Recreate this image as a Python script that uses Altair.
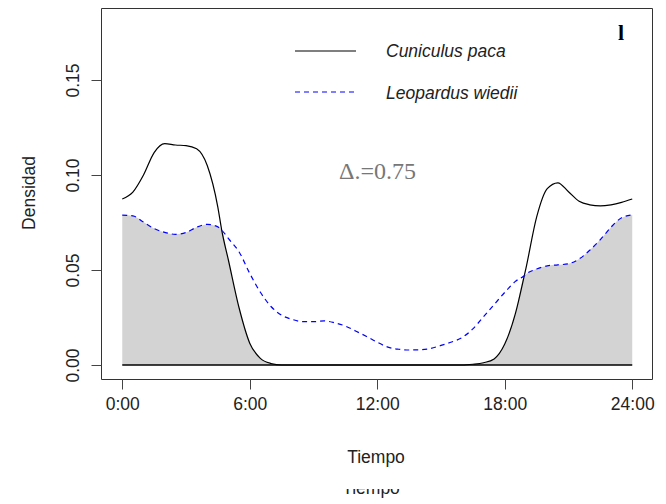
import altair as alt
import numpy as np
import pandas as pd

# Kernel density of activity (hour of day) for each species
hours = [0, 0.5, 1, 1.5, 2, 2.5, 3, 3.5, 4, 4.5, 4.68, 5, 5.5, 6, 6.5, 7, 7.5,
         8, 8.5, 9, 9.5, 10, 10.5, 11, 11.5, 12, 12.5, 13, 13.5, 14, 14.5, 15,
         15.5, 16, 16.5, 17, 17.5, 18, 18.5, 18.92, 19, 19.5, 20, 20.5, 21,
         21.5, 22, 22.5, 23, 23.5, 24]

paca = [0.0874, 0.0910, 0.1000, 0.1118, 0.1165, 0.1158, 0.1155, 0.1138, 0.1050,
        0.0830, 0.0710, 0.0550, 0.0300, 0.0115, 0.0035, 0.0008, 0.0,
        0.0, 0.0, 0.0, 0.0, 0.0, 0.0, 0.0, 0.0, 0.0, 0.0, 0.0, 0.0, 0.0, 0.0, 0.0,
        0.0, 0.0, 0.0004, 0.0012, 0.0032, 0.0110, 0.0270, 0.0470, 0.0510, 0.0778,
        0.0928, 0.0959, 0.0912, 0.0862, 0.0843, 0.0837, 0.0843, 0.0856, 0.0874]

wiedii = [0.0789, 0.0785, 0.0752, 0.0718, 0.0698, 0.0688, 0.0697, 0.0725, 0.0740,
          0.0727, 0.0710, 0.0665, 0.0595, 0.0482, 0.0383, 0.0308, 0.0262,
          0.0240, 0.0228, 0.0228, 0.0232, 0.0222, 0.0205, 0.0178, 0.0150, 0.0120,
          0.0094, 0.0083, 0.0079, 0.0080, 0.0087, 0.0103, 0.0121, 0.0145, 0.0190,
          0.0254, 0.0318, 0.0382, 0.0440, 0.0470, 0.0478, 0.0505, 0.0522, 0.0527,
          0.0533, 0.0558, 0.0604, 0.0660, 0.0725, 0.0775, 0.0790]

x_ticks = [0, 6, 12, 18, 24]
y_ticks = [0.0, 0.05, 0.10, 0.15]
species = ["Cuniculus paca", "Leopardus wiedii"]
overlap_label = "\u0394.=0.75"
panel_label = "l"

df = pd.DataFrame({"hora": hours, "paca": paca, "wiedii": wiedii})
df["solape"] = np.minimum(df["paca"], df["wiedii"])

one = pd.DataFrame({"k": [0]})  # single row for annotation marks

W, H = 551, 371
SANS = "Liberation Sans"
SERIF = "Liberation Serif"

x_scale = alt.Scale(domain=[-1.0, 24.93], nice=False, zero=False)
y_scale = alt.Scale(domain=[-0.00737, 0.1879], nice=False, zero=False)

x_axis = alt.Axis(values=x_ticks, labelExpr="datum.value + ':00'", title=None,
                  grid=False, domain=False, ticks=True, tickSize=10,
                  tickColor="#444", labelFont=SANS, labelFontSize=17.5,
                  labelColor="#222", labelPadding=20, labelBaseline="alphabetic",
                  labelFlush=False, labelOverlap=False)
y_axis = alt.Axis(values=y_ticks, format=".2f", title=None, grid=False,
                  domain=False, ticks=True, tickSize=10, tickColor="#444",
                  labelFont=SANS, labelFontSize=17.5, labelColor="#222",
                  labelAngle=270, labelAlign="center", labelBaseline="alphabetic",
                  labelPadding=13, labelFlush=False, labelOverlap=False)

base = alt.Chart(df)

area = base.mark_area(color="#D3D3D3", interpolate="monotone").encode(
    x=alt.X("hora:Q", scale=x_scale, axis=x_axis),
    y=alt.Y("solape:Q", scale=y_scale, axis=y_axis),
)

zero_line = alt.Chart(one).mark_rule(color="black", strokeWidth=1.4).encode(
    x=alt.datum(0, scale=x_scale), x2=alt.datum(24), y=alt.datum(0, scale=y_scale)
)

line_paca = base.mark_line(color="black", strokeWidth=1.2, interpolate="monotone").encode(
    x="hora:Q", y="paca:Q"
)
line_wiedii = base.mark_line(color="blue", strokeWidth=1.2, strokeDash=[5, 4],
                             interpolate="monotone").encode(
    x="hora:Q", y="wiedii:Q"
)

# legend (pixel positions inside the plot area)
leg_paca = alt.Chart(one).mark_rule(color="black", strokeWidth=1.2).encode(
    x=alt.value(194), x2=alt.value(255), y=alt.value(43)
)
leg_wiedii = alt.Chart(one).mark_rule(color="blue", strokeWidth=1.2, strokeDash=[5, 4]).encode(
    x=alt.value(194), x2=alt.value(255), y=alt.value(84)
)
leg_text = alt.Chart(pd.DataFrame({"t": species, "y": [49, 91]})).mark_text(
    font=SANS, fontSize=17.5, fontStyle="italic", align="left",
    baseline="alphabetic", color="#222"
).encode(x=alt.value(285), y=alt.Y("y:Q", scale=None), text="t:N")

delta_text = alt.Chart(one).mark_text(
    font=SERIF, fontSize=24, align="left", baseline="alphabetic", color="#777"
).encode(x=alt.value(238), y=alt.value(171), text=alt.value(overlap_label))

panel_text = alt.Chart(one).mark_text(
    font=SERIF, fontSize=22, fontWeight="bold", align="center",
    baseline="alphabetic", color="black"
).encode(x=alt.value(520), y=alt.value(32), text=alt.value(panel_label))

x_title = alt.Chart(one).mark_text(
    font=SANS, fontSize=17.5, align="center", baseline="alphabetic", color="#222"
).encode(x=alt.value(275), y=alt.value(455), text=alt.value("Tiempo"))

x_title_low = alt.Chart(one).mark_text(
    font=SANS, fontSize=17.5, align="center", baseline="alphabetic", color="#222"
).encode(x=alt.value(270), y=alt.value(486), text=alt.value("Tiempo"))

cover = alt.Chart(one).mark_rect(color="white").encode(
    x=alt.value(220), x2=alt.value(330), y=alt.value(462), y2=alt.value(481)
)

y_title = alt.Chart(one).mark_text(
    font=SANS, fontSize=17.5, align="center", baseline="alphabetic", color="#222",
    angle=270
).encode(x=alt.value(-66), y=alt.value(185), text=alt.value("Densidad"))

chart = alt.layer(
    area, zero_line, line_paca, line_wiedii, leg_paca, leg_wiedii, leg_text,
    delta_text, panel_text, x_title, x_title_low, cover, y_title
).properties(
    width=W, height=H,
    padding={"left": 101, "top": 8, "right": 14, "bottom": 125},
    autosize=alt.AutoSizeParams(type="none"),
).configure_view(
    stroke="#333", strokeWidth=1
)

chart.save("out.html", embed_options={"renderer": "svg", "actions": False})
